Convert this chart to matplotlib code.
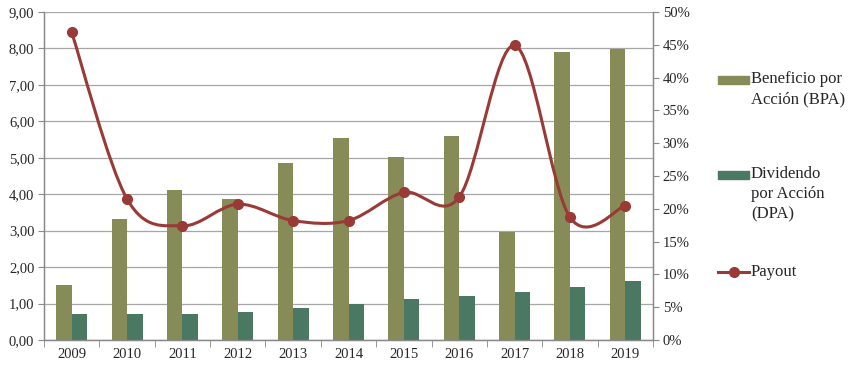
import numpy as np
import matplotlib.pyplot as plt
from matplotlib.path import Path
from matplotlib.patches import PathPatch, Rectangle
from matplotlib.lines import Line2D
from matplotlib.ticker import FuncFormatter, MultipleLocator

years = ['2009', '2010', '2011', '2012', '2013', '2014', '2015', '2016', '2017', '2018', '2019']
bpa = [1.52, 3.32, 4.12, 3.87, 4.86, 5.54, 5.02, 5.60, 2.97, 7.90, 7.99]
dpa = [0.71, 0.71, 0.71, 0.77, 0.88, 0.99, 1.12, 1.22, 1.32, 1.46, 1.62]
payout = [46.9, 21.5, 17.4, 20.7, 18.2, 18.2, 22.5, 21.8, 44.9, 18.7, 20.5]

C_BPA = '#878b57'
C_DPA = '#4a7862'
C_PAY = '#993a36'
C_GRID = '#a6a6a6'

plt.rcParams['font.family'] = ['Liberation Serif', 'DejaVu Serif']

fig = plt.figure(figsize=(8.52, 3.72), dpi=100)
ax = fig.add_axes([44/852, 32/372, 609/852, 328/372])
ax2 = ax.twinx()

x = np.arange(len(years))
w = 0.28
ax.bar(x - w/2, bpa, w, color=C_BPA, zorder=2)
ax.bar(x + w/2, dpa, w, color=C_DPA, zorder=2)

ax.set_xlim(-0.5, len(years) - 0.5)
ax.set_ylim(0, 9)
ax.yaxis.set_major_locator(MultipleLocator(1))
ax.yaxis.set_major_formatter(FuncFormatter(lambda v, p: f'{v:.2f}'.replace('.', ',')))
ax.grid(axis='y', color=C_GRID, linewidth=0.9, zorder=0)
ax.set_axisbelow(True)
ax.set_xticks(x)
ax.set_xticklabels(years)
ax.set_xticks(np.arange(len(years) + 1) - 0.5, minor=True)
ax.tick_params(axis='x', which='major', length=0, pad=6)
ax.tick_params(axis='x', which='minor', length=5, color='#888888')
ax.tick_params(axis='y', length=4, color='#888888', pad=3)

for a in (ax, ax2):
    a.spines['top'].set_visible(False)
    for s in ('left', 'right', 'bottom'):
        a.spines[s].set_color('#888888')
        a.spines[s].set_linewidth(0.9)
    a.tick_params(labelsize=10.5, labelcolor='#262626')

ax2.set_ylim(0, 50)
ax2.yaxis.set_major_locator(MultipleLocator(5))
ax2.yaxis.set_major_formatter(FuncFormatter(lambda v, p: f'{v:.0f}%'))
ax2.tick_params(axis='y', length=4, color='#888888', pad=3)

# smoothed line (Catmull-Rom as Bezier, like Excel's smoothed lines)
px = list(x.astype(float))
py = list(payout)
verts = [(px[0], py[0])]
codes = [Path.MOVETO]
n = len(px)
for i in range(n - 1):
    p0 = (px[max(i - 1, 0)], py[max(i - 1, 0)])
    p1 = (px[i], py[i])
    p2 = (px[i + 1], py[i + 1])
    p3 = (px[min(i + 2, n - 1)], py[min(i + 2, n - 1)])
    c1 = (p1[0] + (p2[0] - p0[0]) / 6, p1[1] + (p2[1] - p0[1]) / 6)
    c2 = (p2[0] - (p3[0] - p1[0]) / 6, p2[1] - (p3[1] - p1[1]) / 6)
    verts += [c1, c2, p2]
    codes += [Path.CURVE4] * 3
ax2.add_patch(PathPatch(Path(verts, codes), facecolor='none', edgecolor=C_PAY, linewidth=2.2, zorder=3))
ax2.plot(x, payout, linestyle='none', marker='o', markersize=7, color=C_PAY, zorder=4)

# legend
def fx(v):
    return v / 852

def fy(v):
    return 1 - v / 372

fs = 12
ls = 1.33
fig.add_artist(Rectangle((fx(718), fy(84)), fx(31), 8/372, color=C_BPA, transform=fig.transFigure))
fig.text(fx(751), fy(71), 'Beneficio por\nAcción (BPA)', fontsize=fs, va='top', ha='left',
         color='#262626', linespacing=ls, transform=fig.transFigure)
fig.add_artist(Rectangle((fx(718), fy(179)), fx(31), 8/372, color=C_DPA, transform=fig.transFigure))
fig.text(fx(751), fy(166), 'Dividendo\npor Acción\n(DPA)', fontsize=fs, va='top', ha='left',
         color='#262626', linespacing=ls, transform=fig.transFigure)
fig.add_artist(Line2D([fx(718), fx(749)], [fy(272), fy(272)], color=C_PAY, linewidth=2.2,
                      transform=fig.transFigure))
fig.add_artist(Line2D([fx(733.5)], [fy(272)], color=C_PAY, marker='o', markersize=7,
                      transform=fig.transFigure))
fig.text(fx(751), fy(272), 'Payout', fontsize=fs, va='center', ha='left',
         color='#262626', transform=fig.transFigure)

fig.savefig('out.png', dpi=100)
